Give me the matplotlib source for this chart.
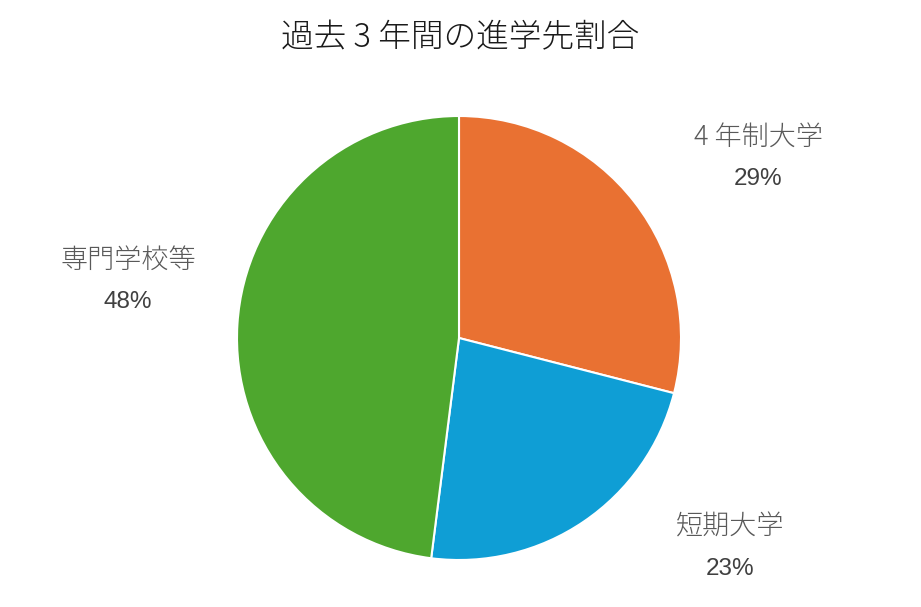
import matplotlib
matplotlib.use("Agg")
import matplotlib.pyplot as plt

plt.rcParams['font.family'] = ['Liberation Sans', 'Noto Sans CJK JP', 'DejaVu Sans']
CJK = ['Noto Sans CJK JP', 'DejaVu Sans']

TITLE = "過去 3 年間の進学先割合"
labels = ["4 年制大学", "短期大学", "専門学校等"]
shares = [29, 23, 48]
colors = ["#E97132", "#0F9ED5", "#4EA72E"]

# label anchor positions (pixels, origin top-left)
label_pos = [(758, 137), (730, 527), (128, 260)]

W, H = 921, 607
fig = plt.figure(figsize=(W / 100, H / 100), dpi=100)
ax = fig.add_axes([0, 0, 1, 1])

ax.pie(shares, colors=colors, startangle=90, counterclock=False,
       center=(459, H - 338), radius=222,
       wedgeprops=dict(edgecolor="white", linewidth=1.5))
ax.set_xlim(0, W)
ax.set_ylim(0, H)
ax.set_aspect("equal")
ax.axis("off")

for lab, val, (x, y) in zip(labels, shares, label_pos):
    ax.text(x, H - y, lab, ha="center", va="center", fontsize=19.5,
            color="#595959", fontweight="light", family=CJK)
    ax.text(x, H - y - 42, f"{val}%", ha="center", va="center", fontsize=17.5,
            color="#404040")

ax.text(460, H - 38, TITLE, ha="center", va="center", fontsize=23.5,
        color="#1a1a1a", fontweight="light", family=CJK)

fig.savefig("out.png", dpi=100, facecolor="white")
